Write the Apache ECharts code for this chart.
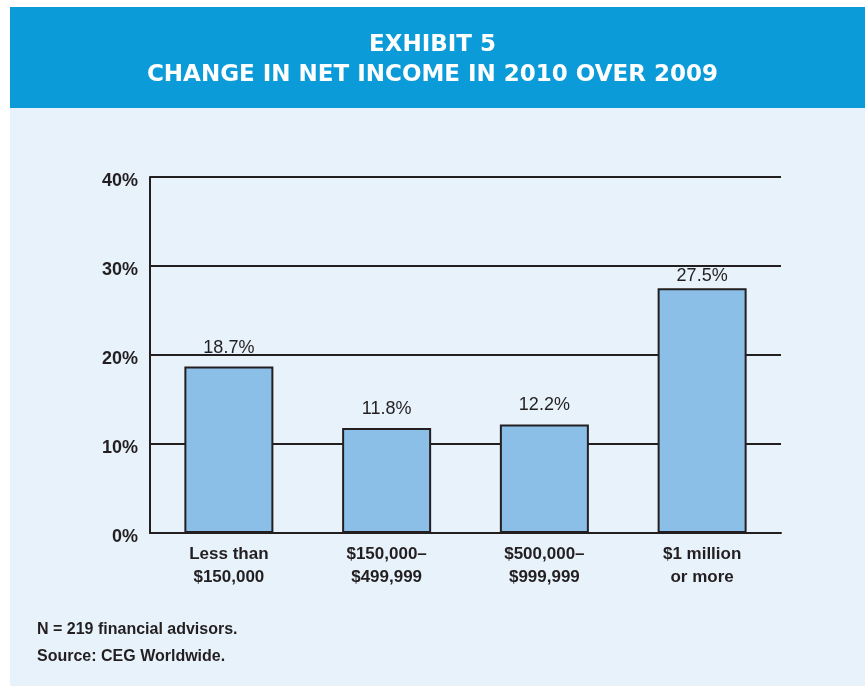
<!DOCTYPE html>
<html>
<head>
<meta charset="utf-8">
<script src="https://cdn.jsdelivr.net/npm/echarts@6/dist/echarts.min.js"></script>
<style>
html,body{margin:0;padding:0;background:#ffffff;}
#chart{width:865px;height:686px;}
</style>
</head>
<body>
<div id="chart"></div>
<script>
const titleLines = ['EXHIBIT 5', 'CHANGE IN NET INCOME IN 2010 OVER 2009'];
const categories = ['Less than\n$150,000', '$150,000–\n$499,999', '$500,000–\n$999,999', '$1 million\nor more'];
const values = [18.7, 11.8, 12.2, 27.5];
const yTicks = { min: 0, max: 40, interval: 10 };
const notes = ['N = 219 financial advisors.', 'Source: CEG Worldwide.'];

const ink = '#231f20';
const font = '"Liberation Sans", Arial, sans-serif';

const chart = echarts.init(document.getElementById('chart'));
chart.setOption({
  backgroundColor: '#ffffff',
  animation: false,
  graphic: [
    { type: 'rect', z: -10, shape: { x: 10, y: 7, width: 855, height: 101 }, style: { fill: '#0b9bd9' } },
    { type: 'rect', z: -10, shape: { x: 10, y: 108, width: 855, height: 578 }, style: { fill: '#e7f2fb' } },
    { type: 'text', left: 'center', top: 34, style: { text: titleLines[0], fill: '#ffffff', font: 'bold 23px "DejaVu Sans", sans-serif' } },
    { type: 'text', left: 'center', top: 64, style: { text: titleLines[1], fill: '#ffffff', font: 'bold 23px "DejaVu Sans", sans-serif' } },
    { type: 'text', left: 37, top: 622, style: { text: notes[0], fill: ink, font: 'bold 16px ' + font } },
    { type: 'text', left: 37, top: 649, style: { text: notes[1], fill: ink, font: 'bold 16px ' + font } }
  ],
  grid: { left: 150, right: 84, top: 177, bottom: 153, containLabel: false },
  xAxis: {
    type: 'category',
    data: categories,
    axisTick: { show: false },
    axisLine: { show: true, lineStyle: { color: ink, width: 2 } },
    axisLabel: { color: ink, fontFamily: font, fontWeight: 'bold', fontSize: 17, lineHeight: 23, margin: 10 }
  },
  yAxis: {
    type: 'value',
    min: yTicks.min, max: yTicks.max, interval: yTicks.interval,
    axisLine: { show: true, lineStyle: { color: ink, width: 2 } },
    axisTick: { show: false },
    splitLine: { show: true, lineStyle: { color: ink, width: 2 } },
    axisLabel: { color: ink, fontFamily: font, fontWeight: 'bold', fontSize: 18, margin: 12, verticalAlign: 'top', lineHeight: 8, formatter: '{value}%' }
  },
  series: [{
    type: 'bar',
    barWidth: 89,
    data: values.map((v, i) => ({
      value: v,
      label: { distance: i === 3 ? 3 : 10 }
    })),
    itemStyle: { color: '#8cbfe8', borderColor: ink, borderWidth: 2 },
    label: {
      show: true, position: 'top', color: ink, fontFamily: font, fontSize: 18,
      formatter: p => p.value.toFixed(1) + '%'
    }
  }]
});
</script>
</body>
</html>
